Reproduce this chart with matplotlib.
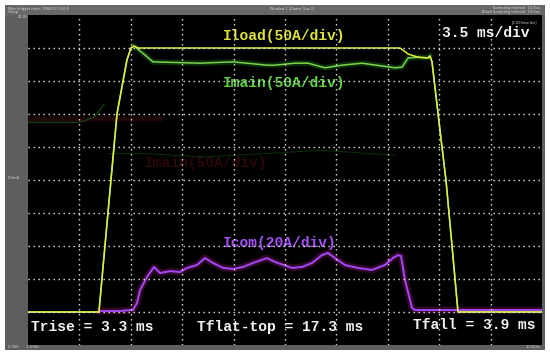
import matplotlib
matplotlib.use("Agg")
import matplotlib.pyplot as plt
from matplotlib.patches import Rectangle
import numpy as np

# ---- data (time in ms, current in A) ----
MS_PER_DIV = 3.5
ILOAD_A_PER_DIV = 50
IMAIN_A_PER_DIV = 50
ICOM_A_PER_DIV = 20
BASE_DIV = 1.0  # channel zero level (divisions from bottom)

iload_t = [0, 4.83, 5.24, 5.65, 6.06, 6.47, 6.74, 7.01, 7.22, 7.49, 25.33, 25.88,
           26.56, 27.24, 27.37, 27.51, 28.05, 28.46, 28.87, 29.28, 35.0]
iload_a = [0, 0, 100, 200, 300, 350, 382, 400, 403, 400, 400, 391,
           386, 385, 388, 379, 276, 200, 101, 0, 0]

imain_t = [0, 4.83, 5.24, 5.65, 6.06, 6.47, 6.74, 7.01, 7.22, 7.83, 8.51, 11.71,
           13.96, 16.27, 16.82, 18.18, 19.07, 20.22, 21.38, 22.74, 24.99, 25.47,
           25.88, 26.56, 27.24, 27.37, 27.51, 28.05, 28.46, 28.87, 29.28, 35.0]
imain_a = [0, 0, 100, 200, 300, 350, 382, 400, 403, 392, 379, 377,
           379, 374, 374, 377, 377, 370, 374, 377, 370, 371,
           385, 386, 385, 388, 379, 276, 200, 101, 0, 0]

icom_t = [4.90, 6.26, 6.95, 7.15, 7.42, 7.63, 8.10, 8.58, 8.99, 9.67, 10.35, 10.83,
          11.51, 12.05, 12.60, 13.28, 13.96, 14.64, 15.32, 16.27, 16.82, 17.98,
          18.66, 19.34, 20.02, 20.43, 20.90, 21.58, 22.47, 23.42, 24.31, 24.85,
          25.19, 25.40, 25.67, 26.15, 26.35, 35.0]
icom_a = [0.6, 0.6, 1.2, 1.2, 5.5, 13.3, 21.2, 27.3, 23.6, 24.8, 24.2, 26.7,
          28.5, 32.7, 29.7, 26.7, 26.1, 27.3, 29.7, 32.7, 30.3, 26.7,
          27.3, 29.7, 34.5, 35.8, 32.7, 28.5, 26.7, 25.5, 28.5, 32.7,
          34.5, 33.9, 19.4, 2.4, 1.2, 1.2]

labels = {
    "iload": "Iload(50A/div)",
    "imain": "Imain(50A/div)",
    "icom": "Icom(20A/div)",
    "tb": "3.5 ms/div",
    "trise": "Trise = 3.3 ms",
    "tflat": "Tflat-top = 17.3 ms",
    "tfall": "Tfall = 3.9 ms",
}

W, H = 550, 358
fig = plt.figure(figsize=(W / 100, H / 100), dpi=100, facecolor="white")

# ---- instrument frame (pixel coordinate overlay) ----
bg = fig.add_axes([0, 0, 1, 1])
bg.set_xlim(0, W)
bg.set_ylim(H, 0)
bg.axis("off")
bg.add_patch(Rectangle((5, 5), 540, 345, facecolor="#5e5e5e", edgecolor="none"))
bg.add_patch(Rectangle((5, 5), 540, 10, facecolor="#686868", edgecolor="none"))
tiny = dict(fontsize=2.6, color="#d8d8d8", family="DejaVu Sans")
bg.text(8, 9, "Main trigger time: 1980/1/1 0:0:0", va="center", **tiny)
bg.text(8, 12.5, "Group", va="center", **tiny)
bg.text(270, 9, "Window 1 (Zoom: 5us 1)", va="center", **tiny)
bg.text(540, 8, "Sampling interval  10.0us", va="center", ha="right", **tiny)
bg.text(540, 12, "Block Sampling Interval  10.0us", va="center", ha="right", **tiny)
bg.text(8, 347, "0.000      -1.500s", va="center", **tiny)
bg.text(540, 347, "10.500s", va="center", ha="right", **tiny)
bg.text(8, 178, "0.0mA", va="center", **tiny)
bg.text(18, 17, "40.00", va="center", **tiny)

# ---- scope screen ----
L, R, T, B = 28, 542, 15, 345
ax = fig.add_axes([L / W, (H - B) / H, (R - L) / W, (B - T) / H])
ax.set_facecolor("black")
ax.set_xlim(0, 10 * MS_PER_DIV)
ax.set_ylim(0, 10)
for s in ax.spines.values():
    s.set_visible(False)
ax.set_xticks([])
ax.set_yticks([])

def to_div(a, per_div):
    return BASE_DIV + np.asarray(a, dtype=float) / per_div

# faint ghost artefacts (compression residue)
ax.plot([0, 9], [6.85, 6.85], color="#1e0505", lw=4, zorder=1)
ax.plot([0, 3.5, 4.5, 5.2], [6.75, 6.75, 6.9, 7.3], color="#145214", lw=0.7, zorder=1)
ax.plot([5.5, 8, 12, 20, 25], [5.8, 5.8, 5.7, 5.9, 5.75], color="#0b300b", lw=0.7, zorder=1)
ax.text(0.228, 0.552, "Imain(50A/div)", transform=ax.transAxes, color="#2c070b",
        fontsize=10.5, family="Liberation Mono", weight="bold", va="center", zorder=1)

# traces
yd_main = to_div(imain_a, IMAIN_A_PER_DIV)
ax.plot(imain_t[8:26], yd_main[8:26], color="#0b2e0b", lw=4, zorder=2)
ax.plot(imain_t, yd_main, color="#7cd24a", lw=1.1, zorder=3)

yd_com = to_div(icom_a, ICOM_A_PER_DIV)
ax.plot(icom_t, yd_com, color="#2e0826", lw=5, zorder=2)
ax.plot(icom_t, yd_com, color="#a046f0", lw=1.5, zorder=3)

yd_load = to_div(iload_a, ILOAD_A_PER_DIV)
ax.plot(iload_t, yd_load, color="#e2ee3c", lw=1.1, zorder=4)

# dotted graticule on top
dots = dict(color="#e6e6e6", lw=1.0, linestyle=(0, (1, 2.6)), zorder=6)
for i in range(1, 10):
    ax.axvline(i * MS_PER_DIV, **dots)
    ax.axhline(i, **dots)

# labels
fkw = dict(transform=ax.transAxes, fontsize=10.5, family="Liberation Mono",
           weight="bold", va="center", ha="left", zorder=5)
ax.text(0.379, 0.936, labels["iload"], color="#dde23a", **fkw)
ax.text(0.379, 0.794, labels["imain"], color="#5fd043", **fkw)
ax.text(0.379, 0.309, labels["icom"], color="#a552f5", **fkw)
ax.text(0.805, 0.945, labels["tb"], color="#f2f2f2", **fkw)
ax.text(0.006, 0.055, labels["trise"], color="#f2f2f2", **fkw)
ax.text(0.329, 0.055, labels["tflat"], color="#f2f2f2", **fkw)
ax.text(0.749, 0.061, labels["tfall"], color="#f2f2f2", **fkw)
ax.text(0.99, 0.985, "[3.500ms/div]", transform=ax.transAxes, fontsize=2.6,
        color="#d0d0d0", ha="right", va="top", zorder=5)

fig.savefig("out.png", dpi=100, facecolor="white")
